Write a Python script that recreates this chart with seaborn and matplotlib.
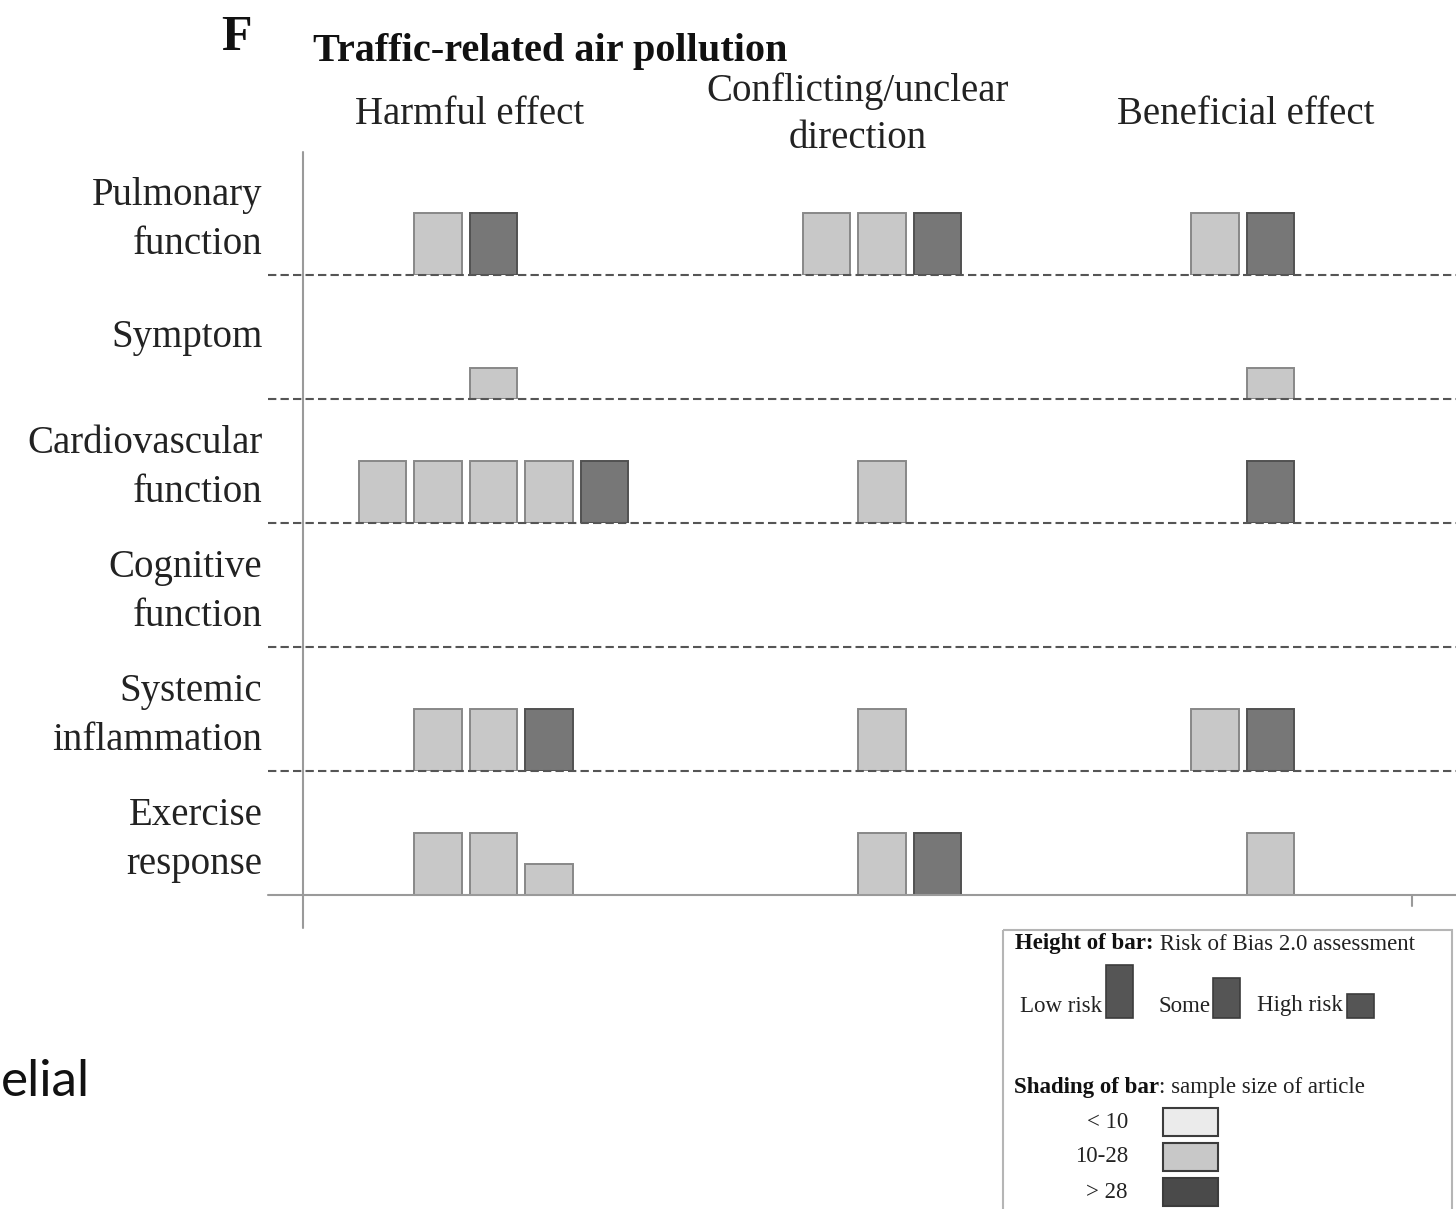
import numpy as np
import pandas as pd
import matplotlib
matplotlib.use("Agg")
import matplotlib.pyplot as plt
from matplotlib.patches import Rectangle
import seaborn as sns

# ---- data -----------------------------------------------------------------
outcomes = ["Pulmonary\nfunction", "Symptom", "Cardiovascular\nfunction",
            "Cognitive\nfunction", "Systemic\ninflammation", "Exercise\nresponse"]
directions = ["Harmful effect", "Conflicting/unclear\ndirection", "Beneficial effect"]
sample_classes = ["< 10", "10-28", "> 28"]
risk_levels = ["Low risk", "Some", "High risk"]

# one entry per study: outcome row, grid slot, sample-size class, risk of bias
study_outcome = ([outcomes[0]] * 7 + [outcomes[1]] * 2 + [outcomes[2]] * 7
                 + [outcomes[4]] * 6 + [outcomes[5]] * 6)
study_slot = [1, 2, 8, 9, 10, 15, 16,
              2, 16,
              0, 1, 2, 3, 4, 9, 16,
              1, 2, 3, 9, 15, 16,
              1, 2, 3, 9, 10, 16]
study_sample = ["10-28", "> 28", "10-28", "10-28", "> 28", "10-28", "> 28",
                "10-28", "10-28",
                "10-28", "10-28", "10-28", "10-28", "> 28", "10-28", "> 28",
                "10-28", "10-28", "> 28", "10-28", "10-28", "> 28",
                "10-28", "10-28", "10-28", "10-28", "> 28", "10-28"]
study_risk = (["Low risk"] * 7
              + ["High risk"] * 2
              + ["Low risk"] * 7
              + ["Low risk"] * 6
              + ["Low risk", "Low risk", "High risk", "Low risk", "Low risk", "Low risk"])

# bar height encodes risk of bias
risk_height = {"Low risk": 1.0, "Some": 0.75, "High risk": 0.5}

df = pd.DataFrame({"outcome": study_outcome, "slot": study_slot,
                   "sample": study_sample, "risk": study_risk})
df["height"] = df["risk"].map(risk_height)

# ---- style ----------------------------------------------------------------
sns.set_style("white")
plt.rcParams["font.family"] = ["Liberation Serif", "DejaVu Serif"]
SERIF = ["Liberation Serif", "DejaVu Serif"]

bar_fill = {"< 10": "#ebebeb", "10-28": "#c8c8c8", "> 28": "#777777"}
legend_fill = {"< 10": "#ebebeb", "10-28": "#c8c8c8", "> 28": "#4a4a4a"}
text_c = "#222222"

W, H = 1456, 1209
fig = plt.figure(figsize=(W / 100, H / 100), dpi=100)

# grid geometry (pixels)
x0_px, x1_px = 268, 1456
row_top0, row_h = 151, 124
slot0_px, slot_w = 382.5, 55.5
xlim = ((x0_px - slot0_px) / slot_w, (x1_px - slot0_px) / slot_w)
slots = list(range(0, 20))

for i, name in enumerate(outcomes):
    top = row_top0 + i * row_h
    ax = fig.add_axes([x0_px / W, 1 - (top + row_h) / H,
                       (x1_px - x0_px) / W, row_h / H])
    ax.patch.set_alpha(0)
    sub = df[df["outcome"] == name]
    if len(sub):
        sns.barplot(data=sub, x="slot", y="height", hue="sample",
                    order=slots, hue_order=sample_classes, palette=bar_fill,
                    dodge=False, width=0.85, linewidth=1.4, saturation=1,
                    errorbar=None, legend=False, ax=ax)
        for p in ax.patches:
            fc = np.array(p.get_facecolor()[:3])
            p.set_edgecolor(tuple(fc * 0.68))
    ax.set_xlim(*xlim)
    ax.set_ylim(0, 2)
    ax.set_xticks([])
    ax.set_xlabel("")
    ax.set_ylabel("")
    ax.set_yticks([1.06])
    ax.set_yticklabels([name])
    ax.tick_params(axis="y", length=0, pad=4)
    for lab in ax.get_yticklabels():
        lab.set_fontsize(28)
        lab.set_family(SERIF)
        lab.set_color(text_c)
        lab.set_linespacing(1.45)
    for s in ax.spines.values():
        s.set_visible(False)
    # row baseline: dashed between rows, solid at the bottom
    if i < len(outcomes) - 1:
        ax.axhline(0, color="#555555", lw=1.5, dashes=(4, 2), clip_on=False, zorder=5)
    else:
        ax.axhline(0, color="#9a9a9a", lw=1.5, clip_on=False, zorder=5)

# ---- overlay in pixel coordinates: axis line, headers, legend --------------
ov = fig.add_axes([0, 0, 1, 1])
ov.set_xlim(0, W)
ov.set_ylim(H, 0)
ov.axis("off")
ov.patch.set_alpha(0)

ov.plot([303, 303], [152, 928], color="#9a9a9a", lw=1.5)
ov.plot([1412, 1412], [896, 906], color="#9a9a9a", lw=1.5)

ov.text(236, 38, "F", fontsize=36, fontweight="bold", ha="center", va="center",
        color="#111111", family=SERIF)
ov.text(313, 52, "Traffic-related air pollution", fontsize=29, fontweight="bold",
        ha="left", va="center", color="#111111", family=SERIF)

header_x = [470, 858, 1246]
for hx, d in zip(header_x, directions):
    ov.text(hx, 115, d, fontsize=28, ha="center", va="center", color=text_c,
            family=SERIF, linespacing=1.35)

# legend box
ov.add_patch(Rectangle((1003, 930), 449, 300, fill=False, edgecolor="#b5b5b5",
                       lw=1.5, clip_on=False))

renderer = fig.canvas.get_renderer()


def mixed(x, y, bold, regular, size):
    t = ov.text(x, y, bold, fontsize=size, fontweight="bold", ha="left",
                va="center", color="#111111", family=SERIF)
    bb = t.get_window_extent(renderer)
    xr = ov.transData.inverted().transform((bb.x1, bb.y0))[0]
    ov.text(xr, y, regular, fontsize=size, ha="left", va="center",
            color=text_c, family=SERIF)


mixed(1015, 944, "Height of bar:", " Risk of Bias 2.0 assessment", 16.5)
mixed(1014, 1088, "Shading of bar", ": sample size of article", 16.5)

# risk-of-bias height key
key_text_x = [1020, 1158, 1257]
key_bar_x = [1106, 1213, 1347]
key_base = 1018
key_full = 53
for tx, bx, lvl in zip(key_text_x, key_bar_x, risk_levels):
    ov.text(tx, 1006, lvl, fontsize=16.5, ha="left", va="center", color=text_c,
            family=SERIF)
    h = key_full * risk_height[lvl] / risk_height["Low risk"]
    if lvl == "High risk":
        h = 24
    ov.add_patch(Rectangle((bx, key_base - h), 27, h, facecolor="#555555",
                           edgecolor="#3c3c3c", lw=1.2))

# sample-size shading key
for k, cls in enumerate(sample_classes):
    yc = 1122 + 35 * k
    ov.text(1128, yc, cls, fontsize=16.5, ha="right", va="center", color=text_c,
            family=SERIF)
    ov.add_patch(Rectangle((1163, yc - 14), 55, 28, facecolor=legend_fill[cls],
                           edgecolor="#3c3c3c", lw=1.5))

ov.text(1, 1082, "elial", fontsize=37, ha="left", va="center", color="#111111",
        family=["Lato", "DejaVu Sans"])

fig.savefig("out.png", dpi=100)
